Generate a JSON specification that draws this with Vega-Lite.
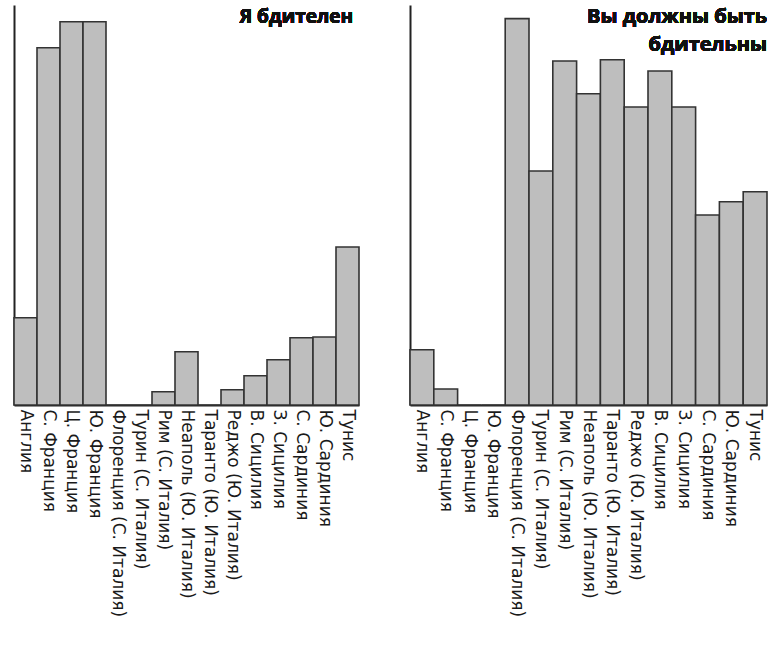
{
  "$schema": "https://vega.github.io/schema/vega-lite/v6.json",
  "padding": {"left": 13, "top": 5, "right": 3, "bottom": 2},
  "background": "white",
  "config": {
    "view": {"stroke": null},
    "concat": {"spacing": 49},
    "axisX": {"title": null, "ticks": false, "domainColor": "#222", "domainWidth": 2, "labelAngle": 90, "labelAlign": "left", "labelBaseline": "middle", "labelPadding": 4, "labelFont": "DejaVu Sans", "labelFontSize": 17, "labelColor": "#1a1a1a", "labelLimit": 400},
    "axisY": {"title": null, "ticks": false, "labels": false, "grid": false, "domainColor": "#222", "domainWidth": 2}
  },
  "data": {"values": [
    {"panel": "L", "region": "Англия", "v": 21.8},
    {"panel": "L", "region": "С. Франция", "v": 89.3},
    {"panel": "L", "region": "Ц. Франция", "v": 95.8},
    {"panel": "L", "region": "Ю. Франция", "v": 95.8},
    {"panel": "L", "region": "Флоренция (С. Италия)", "v": 0},
    {"panel": "L", "region": "Турин (С. Италия)", "v": 0},
    {"panel": "L", "region": "Рим (С. Италия)", "v": 3.3},
    {"panel": "L", "region": "Неаполь (Ю. Италия)", "v": 13.3},
    {"panel": "L", "region": "Таранто (Ю. Италия)", "v": 0},
    {"panel": "L", "region": "Реджо (Ю. Италия)", "v": 3.8},
    {"panel": "L", "region": "В. Сицилия", "v": 7.3},
    {"panel": "L", "region": "З. Сицилия", "v": 11.3},
    {"panel": "L", "region": "С. Сардиния", "v": 16.8},
    {"panel": "L", "region": "Ю. Сардиния", "v": 17.0},
    {"panel": "L", "region": "Тунис", "v": 39.5},
    {"panel": "R", "region": "Англия", "v": 13.8},
    {"panel": "R", "region": "С. Франция", "v": 4.0},
    {"panel": "R", "region": "Ц. Франция", "v": 0},
    {"panel": "R", "region": "Ю. Франция", "v": 0},
    {"panel": "R", "region": "Флоренция (С. Италия)", "v": 96.6},
    {"panel": "R", "region": "Турин (С. Италия)", "v": 58.5},
    {"panel": "R", "region": "Рим (С. Италия)", "v": 86.0},
    {"panel": "R", "region": "Неаполь (Ю. Италия)", "v": 77.8},
    {"panel": "R", "region": "Таранто (Ю. Италия)", "v": 86.3},
    {"panel": "R", "region": "Реджо (Ю. Италия)", "v": 74.5},
    {"panel": "R", "region": "В. Сицилия", "v": 83.5},
    {"panel": "R", "region": "З. Сицилия", "v": 74.5},
    {"panel": "R", "region": "С. Сардиния", "v": 47.5},
    {"panel": "R", "region": "Ю. Сардиния", "v": 50.8},
    {"panel": "R", "region": "Тунис", "v": 53.3}
  ]},
  "hconcat": [
    {
      "width": 345,
      "height": 400,
      "transform": [{"filter": "datum.panel === 'L'"}],
      "layer": [
        {
          "mark": {"type": "bar", "fill": "#bebebe", "stroke": "#333", "strokeWidth": 1.6},
          "encoding": {
            "x": {"field": "region", "type": "nominal", "sort": null, "scale": {"paddingInner": 0, "paddingOuter": 0}},
            "y": {"field": "v", "type": "quantitative", "scale": {"domain": [0, 100], "nice": false}}
          }
        },
        {
          "mark": {"type": "text", "align": "right", "baseline": "middle", "font": "Open Sans", "fontSize": 19, "fontWeight": "bold", "color": "#111", "dx": -6, "text": "Я бдителен"},
          "encoding": {
            "x": {"datum": "Тунис", "bandPosition": 1},
            "y": {"datum": 97}
          }
        }
      ]
    },
    {
      "width": 357,
      "height": 400,
      "transform": [{"filter": "datum.panel === 'R'"}],
      "layer": [
        {
          "mark": {"type": "bar", "fill": "#bebebe", "stroke": "#333", "strokeWidth": 1.6},
          "encoding": {
            "x": {"field": "region", "type": "nominal", "sort": null, "scale": {"paddingInner": 0, "paddingOuter": 0}},
            "y": {"field": "v", "type": "quantitative", "scale": {"domain": [0, 100], "nice": false}}
          }
        },
        {
          "mark": {"type": "text", "align": "right", "baseline": "top", "font": "Open Sans", "fontSize": 20, "fontWeight": "bold", "color": "#111", "dx": 0, "lineHeight": 28, "text": ["Вы должны быть", "бдительны"]},
          "encoding": {
            "x": {"datum": "Тунис", "bandPosition": 1},
            "y": {"datum": 99.5}
          }
        }
      ]
    }
  ]
}
